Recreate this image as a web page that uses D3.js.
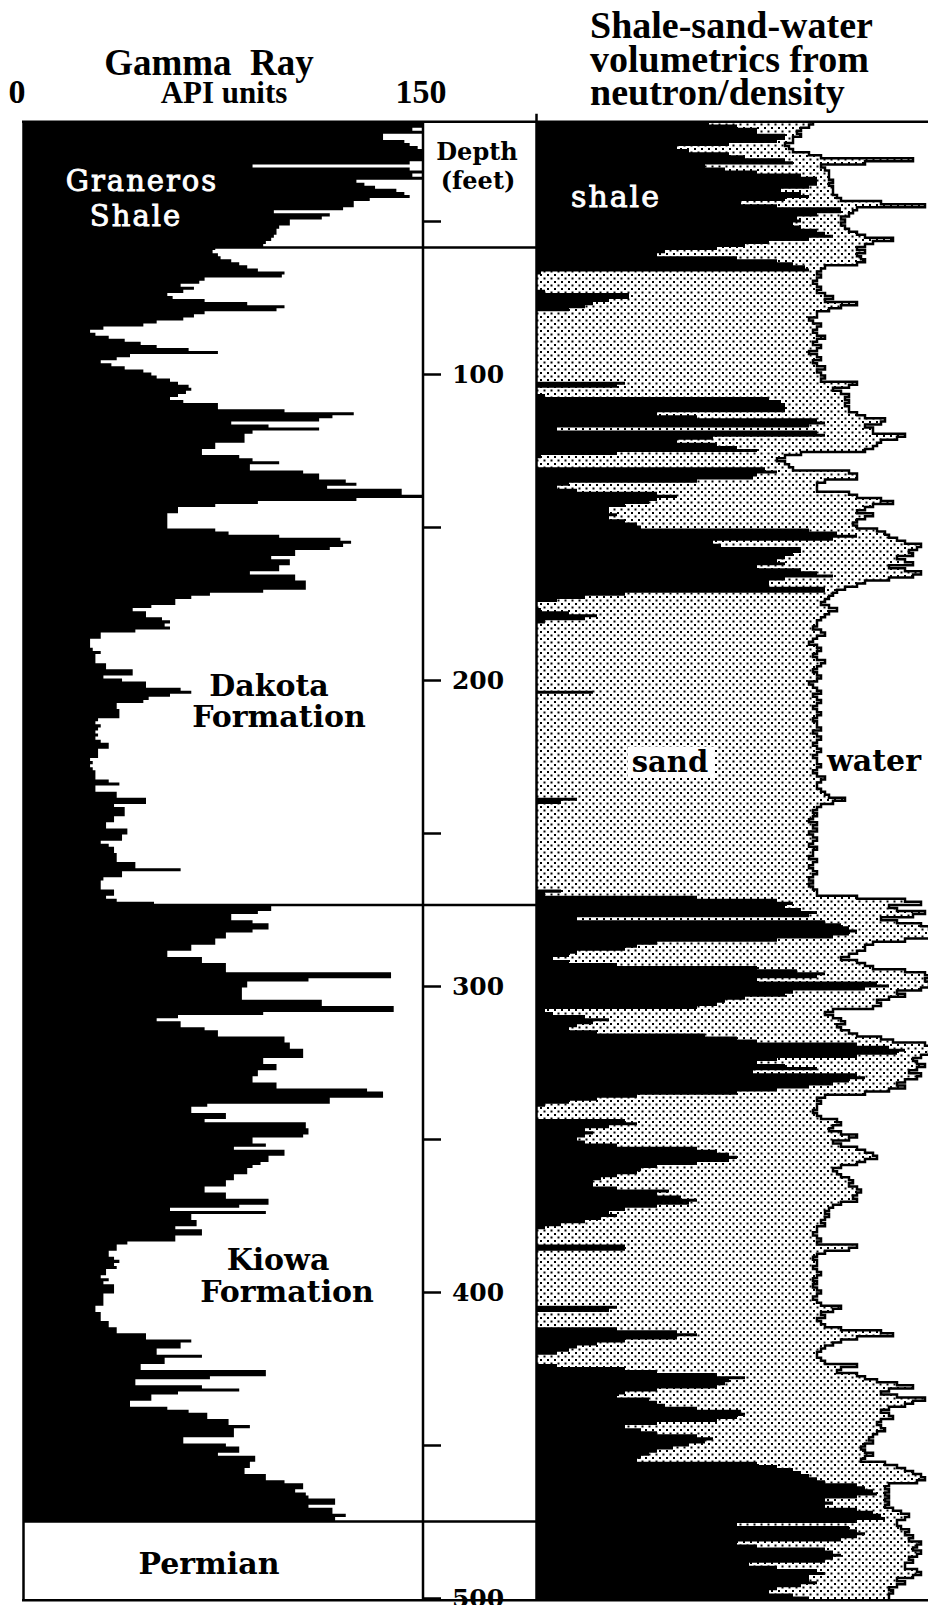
<!DOCTYPE html>
<html><head><meta charset="utf-8">
<script src="https://cdn.jsdelivr.net/npm/d3@7"></script>
<style>
html,body{margin:0;padding:0;background:#fff;}
svg{display:block;}
</style></head>
<body>
<svg id="chart" width="928" height="1605"></svg>
<script>
// Gamma ray log (API units), one reading per foot starting at 18 ft
const grStartDepth = 18;
const gammaRay = [
  150,150,
  146,150,135,135,143,145,148,150,150,150,
  150,145,86,145,150,146,150,125,128,132,
  140,143,145,130,124,124,120,94,115,112,
  100,100,96,95,95,94,93,91,90,72,
  71,73,74,78,81,84,88,98,97,68,
  66,59,64,60,54,56,68,84,98,95,
  68,64,60,50,45,30,25,27,32,38,
  44,50,62,73,40,35,29,33,38,45,
  48,50,55,58,62,63,61,58,55,60,
  73,73,98,124,116,111,78,92,111,86,
  83,83,83,72,72,67,67,81,86,96,
  85,85,105,111,111,121,125,114,142,142,
  150,125,88,72,58,58,54,54,54,54,
  54,72,77,96,119,123,120,115,102,102,
  93,100,100,96,96,85,102,102,106,106,
  106,90,70,63,57,57,48,41,46,46,
  52,55,53,55,42,29,29,25,25,25,
  26,29,27,27,27,31,31,41,41,30,
  37,46,46,59,63,55,47,45,35,35,
  36,36,36,28,27,29,28,27,28,27,
  29,32,32,28,28,28,25,26,25,26,
  27,27,27,32,36,27,27,35,35,46,
  46,34,38,38,38,34,34,31,31,39,
  39,37,37,29,32,34,34,35,35,35,
  42,42,59,37,37,30,29,29,29,34,
  34,31,35,49,93,93,88,78,78,86,
  92,92,86,76,76,72,72,63,63,54,
  54,67,67,76,76,76,138,138,107,84,
  84,82,82,82,82,112,112,139,139,90,
  58,50,59,59,68,73,73,98,98,100,
  100,105,105,105,90,90,95,95,88,88,
  86,86,95,95,129,135,135,115,115,69,
  63,63,76,76,68,106,106,107,107,105,
  86,86,91,79,98,98,92,92,89,86,
  84,84,79,79,76,76,68,68,76,76,
  92,92,81,55,91,63,63,65,65,57,
  67,67,57,57,39,35,35,32,32,34,
  36,34,35,31,31,29,32,30,34,34,
  34,30,30,30,30,27,27,29,29,29,
  32,32,35,35,46,46,63,59,59,50,
  50,67,53,53,44,44,91,91,70,42,
  42,67,81,58,48,48,40,40,54,62,
  69,69,77,77,85,79,79,79,60,60,
  76,81,81,73,87,87,85,85,83,83,
  91,91,98,105,105,102,106,107,117,117,
  107,116,116,121,117
];

// Neutron/density volumetrics (% of bulk volume), one reading per foot from 18 ft
const volStartDepth = 18;
const shaleVolume = [
  43,50,
  55,55,62,62,60,48,35,38,48,52,
  62,64,42,47,55,66,70,70,70,68,
  61,66,68,62,51,60,76,76,70,65,
  66,64,66,70,72,74,68,58,52,45,
  32,30,50,60,64,67,68,1,0,0,
  0,0,0,2,23,23,18,14,12,8,
  0,0,0,0,0,0,0,0,0,0,
  0,0,0,0,0,0,0,0,0,0,
  0,0,0,22,20,0,0,2,58,61,
  62,62,62,30,40,70,72,68,5,70,
  72,44,35,45,50,55,20,1,0,0,
  0,57,60,55,54,40,8,5,10,30,
  35,30,28,22,18,18,20,18,22,25,
  26,68,75,80,74,44,46,66,66,64,
  62,60,62,55,66,70,74,62,58,58,
  72,72,22,12,5,0,0,1,8,15,
  12,2,0,0,0,0,0,0,0,0,
  0,0,0,0,0,0,0,0,0,0,
  0,0,0,0,14,0,0,0,0,0,
  0,0,0,0,0,0,0,0,0,0,
  0,0,0,0,0,0,0,0,0,0,
  0,0,0,0,0,0,0,0,0,10,
  6,0,0,0,0,0,0,0,0,0,
  0,0,0,0,0,0,0,0,0,0,
  0,0,0,0,0,0,0,0,0,6,
  2,40,60,64,62,66,70,68,10,72,
  76,78,80,78,74,60,30,25,22,10,
  8,4,8,20,55,65,72,70,55,85,
  88,82,64,62,52,47,45,40,2,4,
  12,18,14,10,8,15,42,50,55,80,
  88,92,90,80,60,55,62,70,54,80,
  82,78,74,68,60,50,25,15,8,2,
  0,0,0,0,22,25,18,12,14,12,
  10,12,20,40,45,48,50,48,40,30,
  26,25,20,16,14,14,20,33,30,36,
  40,38,30,22,18,20,16,12,6,2,
  0,0,0,0,0,22,22,0,0,0,
  0,0,0,0,0,0,0,0,0,0,
  0,0,0,0,0,20,18,0,0,0,
  0,0,20,35,40,35,22,15,10,8,
  5,0,0,0,5,22,30,45,52,48,
  47,45,30,22,20,28,30,32,40,51,
  52,50,45,30,22,26,30,40,44,42,
  38,34,30,28,26,25,55,60,64,66,
  68,70,72,80,82,84,85,80,72,74,
  72,80,84,86,87,80,50,78,80,82,
  80,76,50,55,72,74,76,74,72,53,
  60,70,72,68,68,70,66,60,58,64,
  68
];
// Shale + sand (cumulative %), the remainder is water-filled porosity
const shaleSandVolume = [
  69,68,
  66,65,66,64,64,62,63,64,68,71,
  94,82,71,72,73,73,73,74,73,74,
  74,74,75,76,86,97,80,79,78,76,
  77,76,77,78,80,82,89,84,82,80,
  82,80,81,82,80,72,71,70,71,70,
  69,70,71,70,72,74,72,80,76,73,
  70,70,68,69,71,70,69,70,72,70,
  69,71,70,68,70,71,69,70,72,70,
  71,72,71,80,78,74,76,78,77,78,
  77,78,78,80,82,87,86,82,84,84,
  92,90,86,85,84,82,66,62,60,62,
  63,64,78,80,80,72,70,70,70,78,
  80,86,89,84,82,80,84,82,80,79,
  80,85,87,88,90,92,96,95,93,94,
  90,92,94,88,92,96,94,88,82,80,
  77,75,74,73,72,71,73,75,73,72,
  71,70,70,69,71,72,70,69,68,70,
  71,70,69,70,72,71,70,69,70,71,
  70,68,69,70,71,69,70,71,70,69,
  70,71,70,69,70,70,71,69,70,71,
  70,69,70,71,70,69,70,70,71,70,
  69,70,72,71,70,70,71,72,73,77,
  74,71,70,69,70,69,68,70,69,70,
  68,69,70,69,68,70,69,69,68,70,
  69,68,69,70,69,68,69,68,69,70,
  70,80,92,96,88,90,97,94,86,90,
  96,98,100,100,99,92,84,82,82,80,
  78,76,80,82,84,92,97,98,97,98,
  98,96,90,92,88,85,86,84,74,72,
  74,76,77,75,76,78,80,86,89,97,
  99,100,98,96,94,95,97,95,93,96,
  95,92,90,92,88,82,72,70,71,70,
  70,69,70,71,75,76,74,73,76,80,
  78,74,76,80,82,84,85,82,80,76,
  74,75,76,78,79,78,80,81,80,79,
  80,76,74,73,72,73,72,71,72,70,
  70,69,70,71,70,80,78,72,70,69,
  70,70,69,70,71,70,69,70,69,70,
  71,70,69,70,71,76,74,71,72,70,
  71,72,76,86,89,80,76,74,72,71,
  70,70,71,72,80,76,75,80,82,85,
  90,94,88,86,90,97,94,92,88,86,
  88,89,86,85,86,87,85,84,83,84,
  82,81,82,84,82,81,87,90,92,94,
  96,97,95,88,87,88,87,88,87,88,
  87,89,91,93,92,90,90,91,93,92,
  94,93,96,95,94,96,95,93,94,92,
  92,95,96,94,90,92,90,88,89,88,
  88
];

// Depth track
const depthLabels = [100, 200, 300, 400, 500];
const depthMinorTicks = [50, 150, 250, 350, 450];
const logTop = 17.6, logBottom = 500.7;

// Formation tops (ft)
const formationNames = ["Graneros Shale", "Dakota Formation", "Kiowa Formation", "Permian"];
const formationTops = [17.6, 58.7, 273.5, 475];

const svg = d3.select("#chart");
const y = d3.scaleLinear().domain([0, 500]).range([68, 1598]);
const xGR = d3.scaleLinear().domain([0, 150]).range([23.5, 423]).clamp(true);
const xVol = d3.scaleLinear().domain([0, 100]).range([537, 937]).clamp(true);

const serifBold = "'DejaVu Serif', serif";
const titleFont = "'Liberation Serif', 'Times New Roman', serif";

const defs = svg.append("defs");
// stippled fill for the sand fraction
const pat = defs.append("pattern").attr("id", "sandDots")
  .attr("width", 7).attr("height", 7).attr("patternUnits", "userSpaceOnUse");
pat.append("rect").attr("width", 7).attr("height", 7).attr("fill", "#fff");
pat.append("rect").attr("x", 1).attr("y", 1).attr("width", 2).attr("height", 2).attr("fill", "#000");
pat.append("rect").attr("x", 4.5).attr("y", 4.5).attr("width", 2).attr("height", 2).attr("fill", "#000");

defs.append("clipPath").attr("id", "grClip").append("rect")
  .attr("x", xGR(0)).attr("y", y(logTop))
  .attr("width", xGR(150) - xGR(0)).attr("height", y(formationTops[3]) - y(logTop));
defs.append("clipPath").attr("id", "volClip").append("rect")
  .attr("x", xVol(0)).attr("y", y(logTop))
  .attr("width", 928 - xVol(0)).attr("height", y(logBottom) - y(logTop));

// ---- Gamma ray track ----
const grPts = gammaRay.map((v, i) => ({ depth: grStartDepth - 0.5 + i, v }));
grPts.push({ depth: formationTops[3], v: gammaRay[gammaRay.length - 1] });

const grArea = d3.area().curve(d3.curveStepBefore)
  .y(d => y(d.depth)).x0(xGR(0)).x1(d => xGR(d.v));
svg.append("path").datum(grPts).attr("clip-path", "url(#grClip)")
  .attr("d", grArea).attr("fill", "#000");

// ---- Volumetrics track ----
const volPts = shaleVolume.map((v, i) => ({ depth: volStartDepth - 0.5 + i, sh: v, sd: shaleSandVolume[i] }));
volPts.push({ depth: logBottom + 1, sh: shaleVolume[shaleVolume.length - 1], sd: shaleSandVolume[shaleSandVolume.length - 1] });

const volG = svg.append("g").attr("clip-path", "url(#volClip)");
volG.append("path").datum(volPts)
  .attr("d", d3.area().curve(d3.curveStepBefore).y(d => y(d.depth)).x0(xVol(0)).x1(d => xVol(d.sd)))
  .attr("fill", "url(#sandDots)");
volG.append("path").datum(volPts)
  .attr("d", d3.line().curve(d3.curveStepBefore).y(d => y(d.depth)).x(d => xVol(d.sd)))
  .attr("fill", "none").attr("stroke", "#000").attr("stroke-width", 2.5);
volG.append("path").datum(volPts)
  .attr("d", d3.area().curve(d3.curveStepBefore).y(d => y(d.depth)).x0(xVol(0)).x1(d => xVol(d.sh)))
  .attr("fill", "#000");

// ---- Frame ----
const frame = svg.append("g").attr("stroke", "#000").attr("stroke-width", 2.5).attr("fill", "none");
frame.append("line").attr("x1", 22).attr("x2", 928).attr("y1", y(logTop)).attr("y2", y(logTop));
frame.append("line").attr("x1", 22).attr("x2", 928).attr("y1", y(logBottom)).attr("y2", y(logBottom));
frame.append("line").attr("x1", xGR(0)).attr("x2", xGR(0)).attr("y1", y(logTop)).attr("y2", y(logBottom));
frame.append("line").attr("x1", xGR(150)).attr("x2", xGR(150)).attr("y1", y(logTop)).attr("y2", y(logBottom));
frame.append("line").attr("x1", 536.5).attr("x2", 536.5).attr("y1", y(logTop) - 8).attr("y2", y(logBottom));
formationTops.slice(1).forEach(d => {
  frame.append("line").attr("x1", xGR(0)).attr("x2", 536.5).attr("y1", y(d)).attr("y2", y(d));
});

// ---- Depth axis ----
const axisMinor = d3.axisRight(y).tickValues(depthMinorTicks).tickSize(18).tickFormat("");
const axisMajor = d3.axisRight(y).tickValues(depthLabels).tickSize(18).tickPadding(0)
  .tickFormat(d3.format("d"));
[axisMinor, axisMajor].forEach(ax => {
  const g = svg.append("g").attr("transform", `translate(${xGR(150)},0)`).call(ax);
  g.select(".domain").remove();
  g.selectAll(".tick line").attr("stroke", "#000").attr("stroke-width", 2.5);
  g.selectAll(".tick text").attr("x", 55).attr("text-anchor", "middle")
    .attr("fill", "#000").style("font-family", serifBold).style("font-weight", "bold")
    .style("font-size", "25px");
});

svg.append("text").attr("x", 477).attr("y", 160).attr("text-anchor", "middle")
  .style("font-family", serifBold).style("font-weight", "bold").style("font-size", "24px").text("Depth");
svg.append("text").attr("x", 478).attr("y", 189).attr("text-anchor", "middle")
  .style("font-family", serifBold).style("font-weight", "bold").style("font-size", "24px").text("(feet)");

// ---- Headers ----
function title(x, yy, txt, size, anchor) {
  return svg.append("text").attr("x", x).attr("y", yy).attr("text-anchor", anchor || "middle")
    .style("font-family", titleFont).style("font-weight", "bold").style("font-size", size + "px")
    .style("white-space", "pre").text(txt);
}
title(209, 75, "Gamma  Ray", 37);
title(17, 103, "0", 34);
title(224, 103, "API units", 31);
title(421, 103, "150", 34);
title(590, 38, "Shale-sand-water", 38, "start");
title(590, 71.5, "volumetrics from", 38, "start");
title(590, 105, "neutron/density", 38, "start");

// ---- Formation labels ----
function label(x, yy, txt, opts) {
  const o = Object.assign({ size: 30, fill: "#000", weight: "bold", anchor: "middle", spacing: 0, stroke: 0 }, opts);
  const t = svg.append("text").attr("x", x).attr("y", yy).attr("text-anchor", o.anchor)
    .attr("fill", o.fill).style("font-family", serifBold).style("font-weight", o.weight)
    .style("font-size", o.size + "px").style("letter-spacing", o.spacing + "px").text(txt);
  if (o.stroke) t.attr("stroke", o.fill).attr("stroke-width", o.stroke);
  return t;
}
const whiteType = { fill: "#fff", weight: "normal", size: 29, spacing: 2, stroke: 0.9 };
const [gran, shaleWord] = formationNames[0].split(" ");
label(142, 191, gran, whiteType);
label(136, 226, shaleWord, whiteType);
const [dak, form1] = formationNames[1].split(" ");
label(269, 696, dak);
label(279, 727, form1);
const [kio, form2] = formationNames[2].split(" ");
label(278, 1270, kio);
label(287, 1302, form2);
label(209, 1574, formationNames[3]);

// Volumetric component labels
label(571, 207, "shale", Object.assign({}, whiteType, { anchor: "start", size: 30 }));
svg.append("rect").attr("x", 628).attr("y", 747).attr("width", 86).attr("height", 30).attr("fill", "#fff");
label(670, 772, "sand", { size: 29 });
label(827, 771, "water", { size: 30, anchor: "start" });
</script>
</body></html>
